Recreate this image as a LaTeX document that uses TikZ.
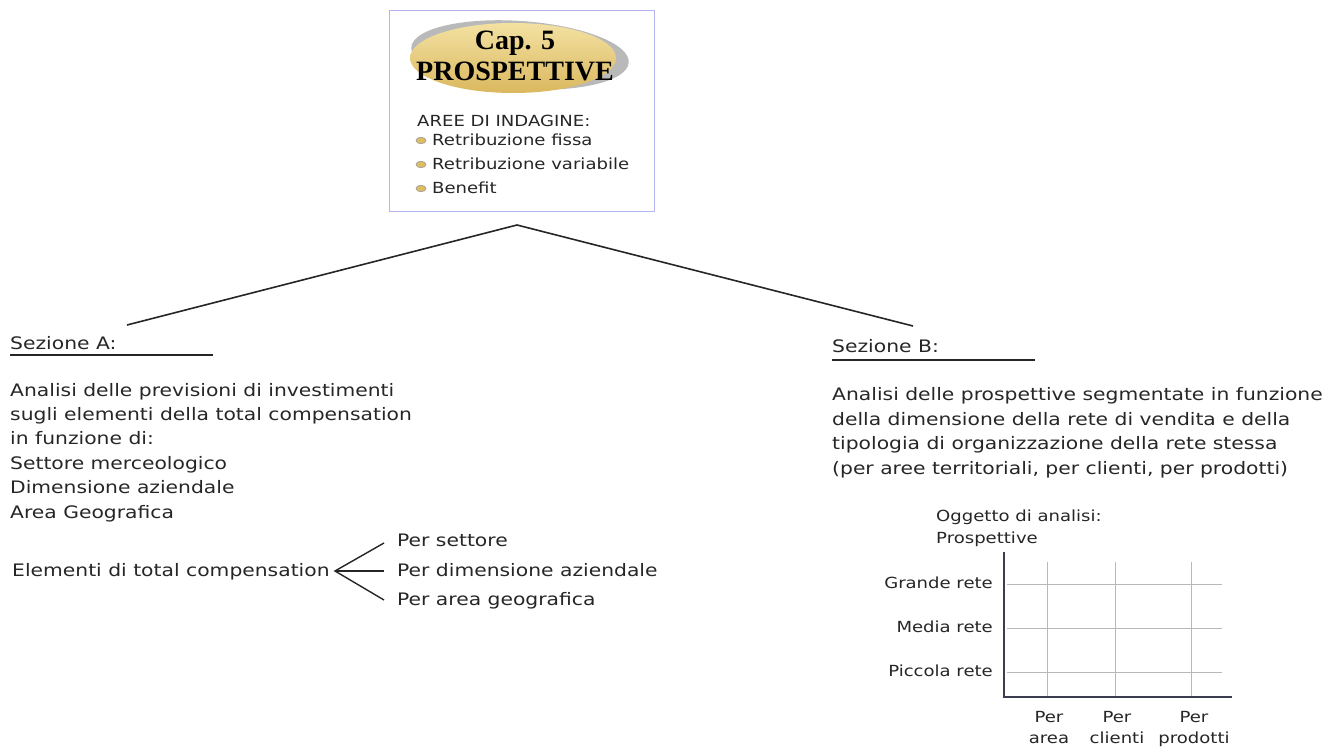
\documentclass[tikz,border=0pt]{standalone}
\usepackage{fontspec}
\setmainfont{DejaVu Sans}[FakeStretch=1.18]
\newfontfamily\titlefont{Liberation Serif}
\usetikzlibrary{shapes.geometric}
\definecolor{txt}{HTML}{262626}
\definecolor{gold}{HTML}{DDBE62}
\definecolor{goldlight}{HTML}{F3E1A2}
\definecolor{boxline}{HTML}{B4B4F0}
\definecolor{axis}{HTML}{3C3C50}
\definecolor{grid}{HTML}{B8B8B8}
\tikzset{
  every node/.style={text=txt, inner sep=0pt},
  bodyfont/.style={font=\fontsize{17.2}{24.4}\selectfont},
  body/.style={bodyfont, align=left, anchor=base west},
  line/.style={bodyfont, anchor=base west},
  small/.style={font=\fontsize{15.3}{22}\selectfont},
  conn/.style={draw=txt, line width=1.4pt},
  gridline/.style={draw=grid, line width=1pt},
  axisline/.style={draw=axis, line width=2.6pt},
  bullet/.style={ellipse, minimum width=10pt, minimum height=6.5pt, fill=gold, draw=gray!80, line width=0.6pt},
}
\begin{document}
\begin{tikzpicture}[x=1pt,y=-1pt]
\useasboundingbox (0,0) rectangle (1337,749);
% top box
\node[draw=boxline, line width=1.2pt, minimum width=265pt, minimum height=201pt, anchor=north west] (top) at (389,10) {};
\fill[gray!55, rotate around={-4:(520,55)}] (520,55) ellipse (109pt and 34pt);
\node[ellipse, minimum width=206pt, minimum height=70pt, top color=goldlight, bottom color=gold!90!brown, draw=none] (oval) at (513,58) {};
\node[font=\titlefont\bfseries\fontsize{28}{31}\selectfont, align=center, text=black, anchor=base] (title) at (515,81) {Cap. 5\\PROSPETTIVE};
\node[small, anchor=base west] (aree) at (417,126.5) {AREE DI INDAGINE:};
\node[bullet] (b1) at (421,140.5) {};
\node[bullet] (b2) at (421,164.5) {};
\node[bullet] (b3) at (421,188.5) {};
\node[small, anchor=base west] (r1) at (432,145) {Retribuzione fissa};
\node[small, anchor=base west] (r2) at (432,169) {Retribuzione variabile};
\node[small, anchor=base west] (r3) at (432,193) {Benefit};
\coordinate (apex) at (517,225);
\coordinate (la) at (127,325);
\coordinate (lb) at (913,326);
\draw[conn, line width=1.6pt] (la) -- (apex) -- (lb);
% Sezione A
\node[line] (sa) at (10,349) {Sezione A:};
\coordinate (ua1) at (10,355);
\coordinate (ua2) at (213,355);
\draw[conn] (ua1) -- (ua2);
\node[body] (pa) at (10,518) {Analisi delle previsioni di investimenti\\sugli elementi della total compensation\\in funzione di:\\Settore merceologico\\Dimensione aziendale\\Area Geografica};
\node[line] (el) at (12,576) {Elementi di total compensation};
\coordinate (br) at (335,571);
\node[line] (p1) at (397,546) {Per settore};
\node[line] (p2) at (397,576) {Per dimensione aziendale};
\node[line] (p3) at (397,605) {Per area geografica};
\coordinate (e1) at (384,543);
\coordinate (e2) at (384,571);
\coordinate (e3) at (384,600);
\draw[conn] (e1) -- (br) -- (e3);
\draw[conn] (br) -- (e2);
% Sezione B
\node[line] (sb) at (832,352) {Sezione B:};
\coordinate (ub1) at (832,360);
\coordinate (ub2) at (1035,360);
\draw[conn] (ub1) -- (ub2);
\node[body] (pb) at (832,474) {Analisi delle prospettive segmentate in funzione\\della dimensione della rete di vendita e della\\tipologia di organizzazione della rete stessa\\(per aree territoriali, per clienti, per prodotti)};
% chart
\node[small, anchor=base west, align=left] (ogg) at (936,543) {Oggetto di analisi:\\Prospettive};
\coordinate (o) at (1004,697);
\coordinate (yt) at (1004,552);
\coordinate (xr) at (1232,697);
\foreach \y in {584,628,672} \draw[gridline] (1007,\y) -- (1222,\y);
\foreach \x in {1047,1115,1191} \draw[gridline] (\x,562) -- (\x,697);
\draw[axisline] (yt) -- (o) -- (xr);
\node[small, anchor=base east] (gr) at (993,588) {Grande rete};
\node[small, anchor=base east] (mr) at (993,632.5) {Media rete};
\node[small, anchor=base east] (pr) at (993,676.5) {Piccola rete};
\node[small, align=center, anchor=base, font=\fontsize{15.3}{20.5}\selectfont] (c1) at (1049,743) {Per\\area};
\node[small, align=center, anchor=base, font=\fontsize{15.3}{20.5}\selectfont] (c2) at (1117,743) {Per\\clienti};
\node[small, align=center, anchor=base, font=\fontsize{15.3}{20.5}\selectfont] (c3) at (1194,743) {Per\\prodotti};
\end{tikzpicture}
\end{document}
